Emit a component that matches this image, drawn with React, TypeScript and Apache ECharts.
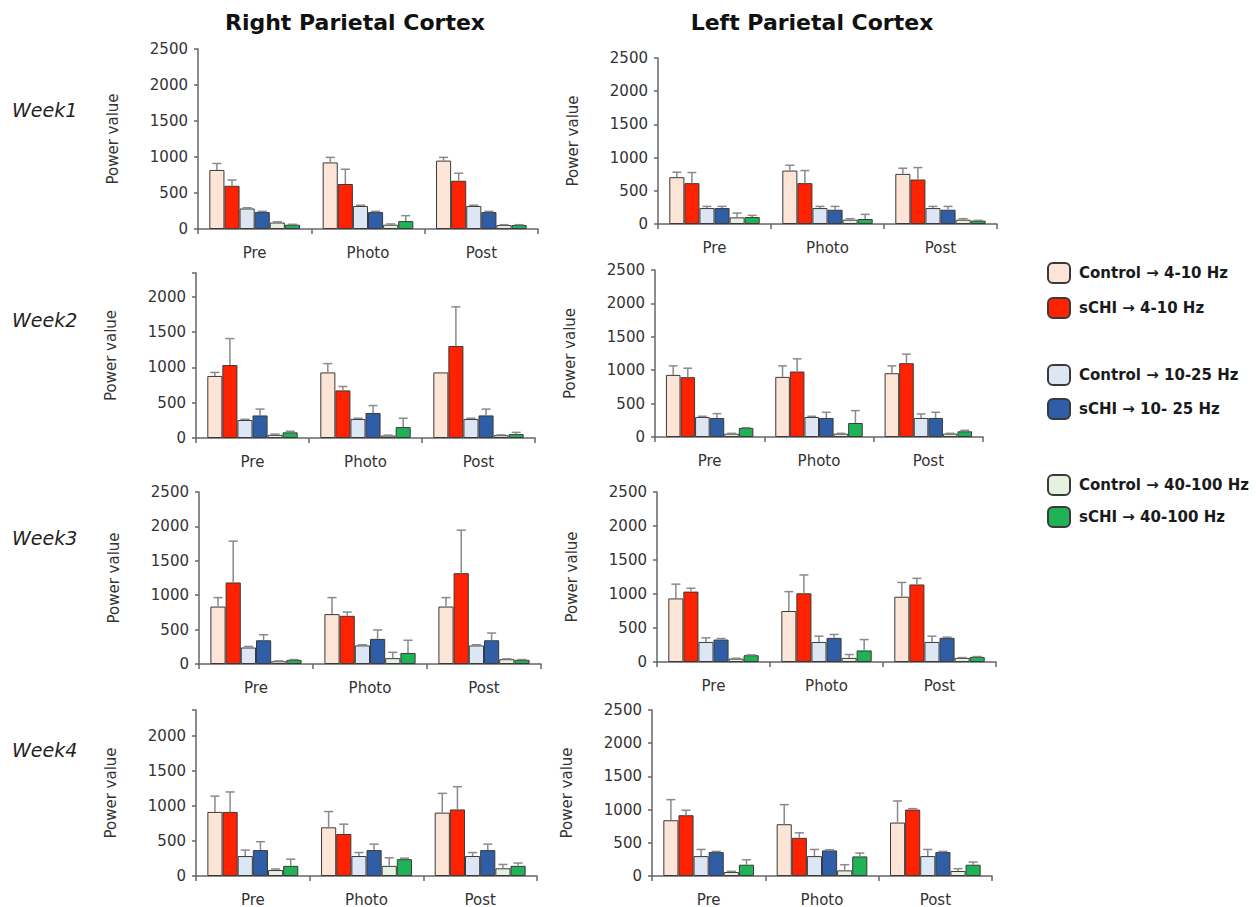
import React, { useEffect, useRef } from 'react';
import * as echarts from 'echarts';

const categories = ['Pre', 'Photo', 'Post'];
const seriesNames = [
  'Control → 4-10 Hz',
  'sCHI → 4-10 Hz',
  'Control → 10-25 Hz',
  'sCHI → 10- 25 Hz',
  'Control → 40-100 Hz',
  'sCHI → 40-100 Hz',
];
const barColors = ['#fce4d6', '#ff2200', '#dce6f5', '#2f5ea6', '#e6f2df', '#1fb257'];
const panelTitles = ['Right Parietal Cortex', 'Left Parietal Cortex'];
const weekLabels = ['Week1', 'Week2', 'Week3', 'Week4'];

// rows = the six series, columns = Pre, Photo, Post
const rightWeek1 = [[820, 925, 950], [600, 625, 670], [285, 320, 320], [235, 235, 235], [90, 60, 55], [60, 110, 55]];
const rightWeek1Err = [[90, 70, 45], [80, 205, 105], [10, 10, 10], [10, 10, 10], [10, 10, 5], [5, 75, 5]];
const leftWeek1 = [[705, 805, 755], [615, 615, 670], [240, 240, 240], [240, 215, 215], [100, 65, 65], [105, 75, 50]];
const leftWeek1Err = [[75, 80, 85], [160, 190, 180], [25, 25, 25], [25, 50, 50], [65, 15, 15], [25, 70, 5]];
const rightWeek2 = [[880, 930, 930], [1035, 675, 1305], [255, 270, 270], [320, 355, 320], [45, 35, 40], [80, 155, 55]];
const rightWeek2Err = [[50, 125, 0], [375, 55, 555], [10, 10, 10], [90, 105, 90], [10, 5, 5], [15, 125, 25]];
const leftWeek2 = [[930, 900, 955], [895, 980, 1105], [300, 300, 285], [285, 285, 285], [50, 50, 50], [135, 210, 85]];
const leftWeek2Err = [[135, 165, 110], [135, 190, 135], [10, 10, 60], [65, 85, 85], [5, 5, 5], [5, 185, 15]];
const rightWeek3 = [[835, 725, 835], [1185, 700, 1320], [240, 270, 270], [345, 365, 345], [40, 85, 70], [60, 160, 60]];
const rightWeek3Err = [[130, 240, 130], [600, 55, 625], [15, 10, 10], [80, 130, 105], [5, 85, 5], [5, 185, 5]];
const leftWeek3 = [[935, 750, 960], [1035, 1010, 1140], [295, 295, 295], [330, 355, 355], [50, 60, 60], [100, 170, 75]];
const leftWeek3Err = [[210, 285, 210], [50, 270, 90], [60, 85, 85], [15, 50, 10], [5, 50, 5], [5, 160, 5]];
const rightWeek4 = [[915, 695, 905], [915, 600, 950], [285, 285, 285], [370, 370, 370], [85, 145, 110], [145, 240, 145]];
const rightWeek4Err = [[225, 225, 275], [285, 140, 325], [85, 50, 50], [120, 85, 85], [15, 115, 55], [95, 15, 40]];
const leftWeek4 = [[840, 780, 805], [915, 575, 1000], [300, 300, 300], [360, 385, 360], [60, 85, 75], [170, 295, 170]];
const leftWeek4Err = [[310, 295, 325], [75, 75, 15], [100, 100, 100], [10, 10, 10], [10, 85, 35], [75, 50, 40]];

const panelValues = [rightWeek1, leftWeek1, rightWeek2, leftWeek2, rightWeek3, leftWeek3, rightWeek4, leftWeek4];
const panelErrors = [rightWeek1Err, leftWeek1Err, rightWeek2Err, leftWeek2Err, rightWeek3Err, leftWeek3Err, rightWeek4Err, leftWeek4Err];

// layout (pixel positions) and axis extents
const layouts = [
  { left: 198, top: 49, width: 340, height: 180, max: 2500 },
  { left: 658, top: 58, width: 339, height: 166, max: 2500 },
  { left: 196, top: 273, width: 339, height: 165, max: 2340 },
  { left: 655, top: 270, width: 328, height: 167, max: 2500 },
  { left: 199, top: 492, width: 342, height: 172, max: 2500 },
  { left: 657, top: 492, width: 339, height: 170, max: 2500 },
  { left: 196, top: 710, width: 341, height: 166, max: 2370 },
  { left: 652, top: 710, width: 340, height: 166, max: 2500 },
];
const weekY = [110, 320, 538, 750];
const titleX = [355, 812];

const FONT = "'DejaVu Sans', 'Liberation Sans', Arial, sans-serif";

function buildOption() {
  const grid: any[] = [];
  const xAxis: any[] = [];
  const yAxis: any[] = [];
  const series: any[] = [];

  layouts.forEach((l, p) => {
    grid.push({ left: l.left, top: l.top, width: l.width, height: l.height, containLabel: false });
    xAxis.push({
      type: 'category',
      gridIndex: p,
      data: categories,
      axisLine: { lineStyle: { color: '#666', width: 1.5 } },
      axisTick: { show: true, length: 5, lineStyle: { color: '#666', width: 1.5 } },
      axisLabel: { color: '#333', fontSize: 15, fontFamily: FONT, margin: 16 },
    });
    yAxis.push({
      type: 'value',
      gridIndex: p,
      min: 0,
      max: l.max,
      interval: 500,
      name: 'Power value',
      nameLocation: 'middle',
      nameGap: 78,
      nameRotate: 90,
      nameTextStyle: { color: '#333', fontSize: 15, fontFamily: FONT },
      axisLine: { show: true, lineStyle: { color: '#666', width: 1.5 } },
      axisTick: { show: true, length: 4, lineStyle: { color: '#666', width: 1.5 } },
      splitLine: { show: false },
      axisLabel: {
        color: '#333',
        fontSize: 15,
        fontFamily: FONT,
        margin: 10,
        formatter: (v: number) => (v % 500 === 0 ? String(v) : ''),
      },
    });

    const vals = panelValues[p];
    const errs = panelErrors[p];
    vals.forEach((row, s) => {
      series.push({
        type: 'bar',
        name: seriesNames[s],
        xAxisIndex: p,
        yAxisIndex: p,
        data: row,
        barGap: '0%',
        barCategoryGap: '20%',
        itemStyle: { color: barColors[s], borderColor: '#3a3a3a', borderWidth: 1 },
      });
    });

    const errData: number[][] = [];
    vals.forEach((row, s) => {
      row.forEach((v, c) => {
        if (errs[s][c] > 0) errData.push([c, s, v, errs[s][c]]);
      });
    });
    series.push({
      type: 'custom',
      xAxisIndex: p,
      yAxisIndex: p,
      data: errData,
      encode: { x: 0, y: 2 },
      z: 5,
      renderItem: (params: any, api: any) => {
        const c = api.value(0);
        const s = api.value(1);
        const v = api.value(2);
        const e = api.value(3);
        const band = api.size([1, 0])[0];
        const bw = (band * 0.8) / 6;
        const center = api.coord([c, 0])[0];
        const x = center - band * 0.4 + (s + 0.5) * bw;
        const yBar = api.coord([c, v])[1];
        const yTop = api.coord([c, v + e])[1];
        const cap = bw * 0.3;
        const st = { stroke: '#8a8a8a', lineWidth: 1.5 };
        return {
          type: 'group',
          children: [
            { type: 'line', shape: { x1: x, y1: yBar, x2: x, y2: yTop }, style: st },
            { type: 'line', shape: { x1: x - cap, y1: yTop, x2: x + cap, y2: yTop }, style: st },
          ],
        };
      },
    });
  });

  const legendCommon = {
    orient: 'vertical',
    left: 1042,
    icon: 'roundRect',
    itemWidth: 22,
    itemHeight: 20,
    selectedMode: false,
    textStyle: { color: '#1a1a1a', fontSize: 15, fontWeight: 'bold', fontFamily: FONT, padding: [0, 0, 0, 4] },
  };
  const legend = [
    { ...legendCommon, top: 257, itemGap: 13, data: [seriesNames[0], seriesNames[1]] },
    { ...legendCommon, top: 359, itemGap: 12, data: [seriesNames[2], seriesNames[3]] },
    { ...legendCommon, top: 469, itemGap: 10, data: [seriesNames[4], seriesNames[5]] },
  ];

  const graphic: any[] = [];
  panelTitles.forEach((t, i) => {
    graphic.push({
      type: 'text',
      x: titleX[i],
      y: 22,
      style: { text: t, fontSize: 22, fontWeight: 'bold', fontFamily: FONT, fill: '#111', align: 'center', verticalAlign: 'middle' },
    });
  });
  weekLabels.forEach((w, i) => {
    graphic.push({
      type: 'text',
      x: 12,
      y: weekY[i],
      style: { text: w, fontSize: 19, fontStyle: 'italic', fontFamily: FONT, fill: '#222', align: 'left', verticalAlign: 'middle' },
    });
  });

  return { animation: false, backgroundColor: '#ffffff', grid, xAxis, yAxis, series, legend, graphic };
}

export default function App() {
  const ref = useRef<HTMLDivElement>(null);
  useEffect(() => {
    if (!ref.current) return;
    const chart = echarts.init(ref.current, null, { renderer: 'svg' });
    chart.setOption(buildOption() as any);
    return () => chart.dispose();
  }, []);
  return <div ref={ref} style={{ position: 'absolute', left: 0, top: 0, width: 1256, height: 907 }} />;
}
